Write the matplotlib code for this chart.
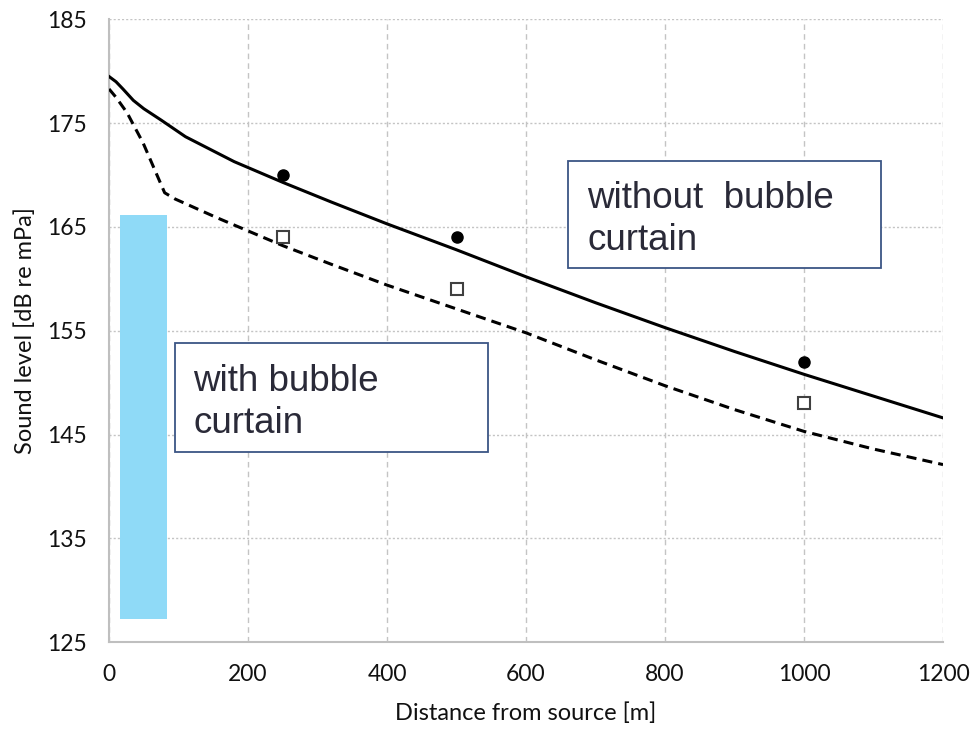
import numpy as np
import matplotlib.pyplot as plt
from matplotlib.patches import Rectangle

# modelled sound level without bubble curtain (solid line)
dist_free = [0, 10, 20, 35, 50, 75, 110, 180, 250, 320, 400, 500, 600, 700, 800, 900, 1000, 1100, 1200]
level_free = [179.5, 179.0, 178.3, 177.2, 176.4, 175.3, 173.7, 171.3, 169.3, 167.4, 165.3, 162.8,
              160.2, 157.7, 155.3, 153.0, 150.8, 148.7, 146.6]

# modelled sound level with bubble curtain (dashed line)
dist_curtain = [0, 10, 26, 49, 80, 95, 155, 250, 320, 400, 500, 600, 700, 800, 900, 1000, 1100, 1200]
level_curtain = [178.3, 177.5, 176.0, 173.1, 168.3, 167.7, 165.9, 163.2, 161.4, 159.4, 157.1,
                 154.8, 152.2, 149.7, 147.4, 145.3, 143.6, 142.1]

# measurements
meas_dist = [250, 500, 1000]
meas_free = [170, 164, 152]
meas_curtain = [164, 159, 148]

# bubble curtain extent
curtain_x = [16, 83]
curtain_y = [127.2, 166.2]

xticks = [0, 200, 400, 600, 800, 1000, 1200]
yticks = [125, 135, 145, 155, 165, 175, 185]

fig = plt.figure(figsize=(9.71, 7.29), dpi=100)
ax = fig.add_axes([0.1123, 0.1193, 0.8589, 0.854])

ax.add_patch(Rectangle((curtain_x[0], curtain_y[0]), curtain_x[1] - curtain_x[0],
                       curtain_y[1] - curtain_y[0], facecolor='#8fdaf7', edgecolor='none', zorder=1))

ax.plot(dist_free, level_free, color='black', lw=2.2, zorder=3)
ax.plot(dist_curtain, level_curtain, color='black', lw=2.2, dashes=(3.3, 2), zorder=3)
ax.plot(meas_dist, meas_free, 'o', color='black', ms=8, zorder=4)
ax.plot(meas_dist, meas_curtain, 's', mfc='white', mec='#404040', mew=1.5, ms=9, zorder=4)

ax.set_xlim(0, 1200)
ax.set_ylim(125, 185)
ax.set_xticks(xticks)
ax.set_yticks(yticks)
ax.tick_params(length=0, pad=16, labelsize=16.5, labelcolor='#111111')
for lbl in ax.get_xticklabels() + ax.get_yticklabels():
    lbl.set_family('Lato')

ax.xaxis.grid(True, color='#c4c4c4', lw=1, ls=(0, (4, 3)))
ax.yaxis.grid(True, color='#c4c4c4', lw=1, ls=(0, (1.5, 1.5)))
ax.set_axisbelow(True)
for side in ['top', 'right']:
    ax.spines[side].set_visible(False)
for side in ['left', 'bottom']:
    ax.spines[side].set_color('#bfbfbf')
    ax.spines[side].set_linewidth(1.5)

ax.set_xlabel('Distance from source [m]', family='Lato', fontsize=17, color='#111111', labelpad=12)
ax.set_ylabel('Sound level [dB re mPa]', family='Lato', fontsize=17, color='#111111', labelpad=8)

# annotation boxes
box_style = dict(facecolor='white', edgecolor='#3b5585', lw=1.3, zorder=5)
ax.add_patch(Rectangle((660, 161.0), 451, 10.4, **box_style))
ax.text(688, 169.4, 'without  bubble\ncurtain', family='Liberation Sans', fontsize=26.5,
        color='#2a2a38', va='top', linespacing=1.25, zorder=6)
ax.add_patch(Rectangle((95, 143.3), 450, 10.5, **box_style))
ax.text(121, 151.8, 'with bubble\ncurtain', family='Liberation Sans', fontsize=26.5,
        color='#2a2a38', va='top', linespacing=1.25, zorder=6)

fig.savefig('out.png', dpi=100)
